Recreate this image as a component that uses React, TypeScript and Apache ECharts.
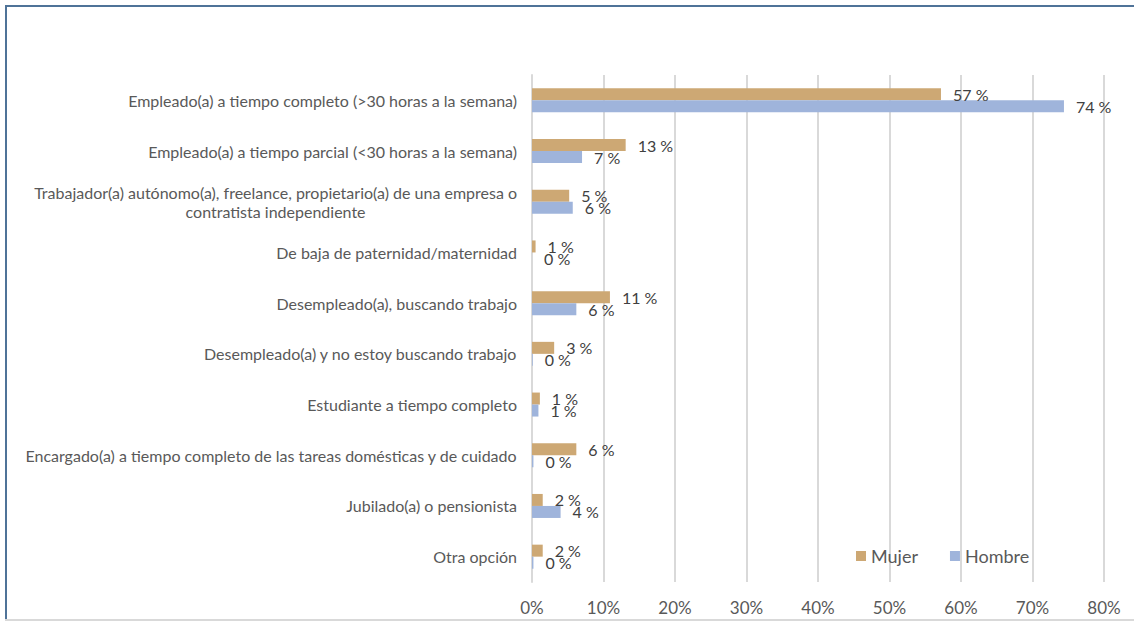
import React, { useEffect, useRef } from "react";
import * as echarts from "echarts";

const categories = [
  "Empleado(a) a tiempo completo (>30 horas a la semana)",
  "Empleado(a) a tiempo parcial (<30 horas a la semana)",
  "Trabajador(a) autónomo(a), freelance, propietario(a) de una empresa o\ncontratista independiente",
  "De baja de paternidad/maternidad",
  "Desempleado(a), buscando trabajo",
  "Desempleado(a) y no estoy buscando trabajo",
  "Estudiante a tiempo completo",
  "Encargado(a) a tiempo completo de las tareas domésticas y de cuidado",
  "Jubilado(a) o pensionista",
  "Otra opción",
];
const mujer = [57.2, 13.1, 5.2, 0.5, 10.9, 3.1, 1.1, 6.2, 1.5, 1.5];
const hombre = [74.4, 7.0, 5.7, 0, 6.2, 0.1, 0.9, 0.2, 4.0, 0.2];
const xTicks = [0, 10, 20, 30, 40, 50, 60, 70, 80];

const FONT = "Lato";

export default function App() {
  const ref = useRef<HTMLDivElement>(null);
  useEffect(() => {
    if (!ref.current) return;
    const chart = echarts.init(ref.current, null, { renderer: "svg" });
    const labelStyle = {
      show: true,
      position: "right" as const,
      distance: 12,
      color: "#404040",
      fontFamily: FONT,
      fontSize: 16,
      formatter: (p: any) => Math.round(p.value) + " %",
    };
    chart.setOption({
      animation: false,
      backgroundColor: "#ffffff",
      textStyle: { fontFamily: FONT },
      grid: { left: 532, right: 30, top: 75, bottom: 39, containLabel: false },
      legend: {
        data: ["Mujer", "Hombre"],
        left: 851,
        top: 542,
        icon: "rect",
        itemWidth: 10,
        itemHeight: 10,
        itemGap: 32,
        textStyle: { color: "#595959", fontSize: 18, fontFamily: FONT },
      },
      xAxis: {
        type: "value",
        min: xTicks[0],
        max: xTicks[xTicks.length - 1],
        interval: 10,
        axisLine: { show: false },
        axisTick: { show: false },
        splitLine: { lineStyle: { color: "#d9d9d9", width: 2 } },
        axisLabel: {
          color: "#595959",
          fontSize: 17,
          fontFamily: FONT,
          margin: 17,
          formatter: (v: number) => v + "%",
        },
      },
      yAxis: {
        type: "category",
        inverse: true,
        data: categories,
        axisLine: { show: true, lineStyle: { color: "#d9d9d9", width: 2 } },
        axisTick: { show: false },
        axisLabel: {
          color: "#595959",
          fontSize: 16,
          fontFamily: FONT,
          margin: 15,
          lineHeight: 19,
          formatter: (v: string) =>
            v
              .split("\n")
              .map((l) => "{c|" + l + "}")
              .join("\n"),
          rich: {
            c: {
              align: "center",
              color: "#595959",
              fontSize: 16,
              fontFamily: FONT,
              lineHeight: 19,
            },
          },
        },
      },
      series: [
        {
          name: "Mujer",
          type: "bar",
          data: mujer,
          barWidth: 12,
          barGap: "0%",
          itemStyle: { color: "#CDA874" },
          label: labelStyle,
        },
        {
          name: "Hombre",
          type: "bar",
          data: hombre,
          barWidth: 12,
          barGap: "0%",
          itemStyle: { color: "#9FB4DB" },
          label: labelStyle,
        },
      ],
      graphic: [
        { type: "rect", shape: { x: 5, y: 5, width: 2, height: 614 }, style: { fill: "#4F7398" }, silent: true },
        { type: "rect", shape: { x: 5, y: 5, width: 1129, height: 2 }, style: { fill: "#4F7398" }, silent: true },
        { type: "rect", shape: { x: 5, y: 619, width: 1129, height: 2 }, style: { fill: "#d9d9d9" }, silent: true },
      ],
    });
    return () => chart.dispose();
  }, []);
  return (
    <div
      ref={ref}
      style={{ position: "fixed", left: 0, top: 0, width: 1134, height: 621 }}
    />
  );
}
